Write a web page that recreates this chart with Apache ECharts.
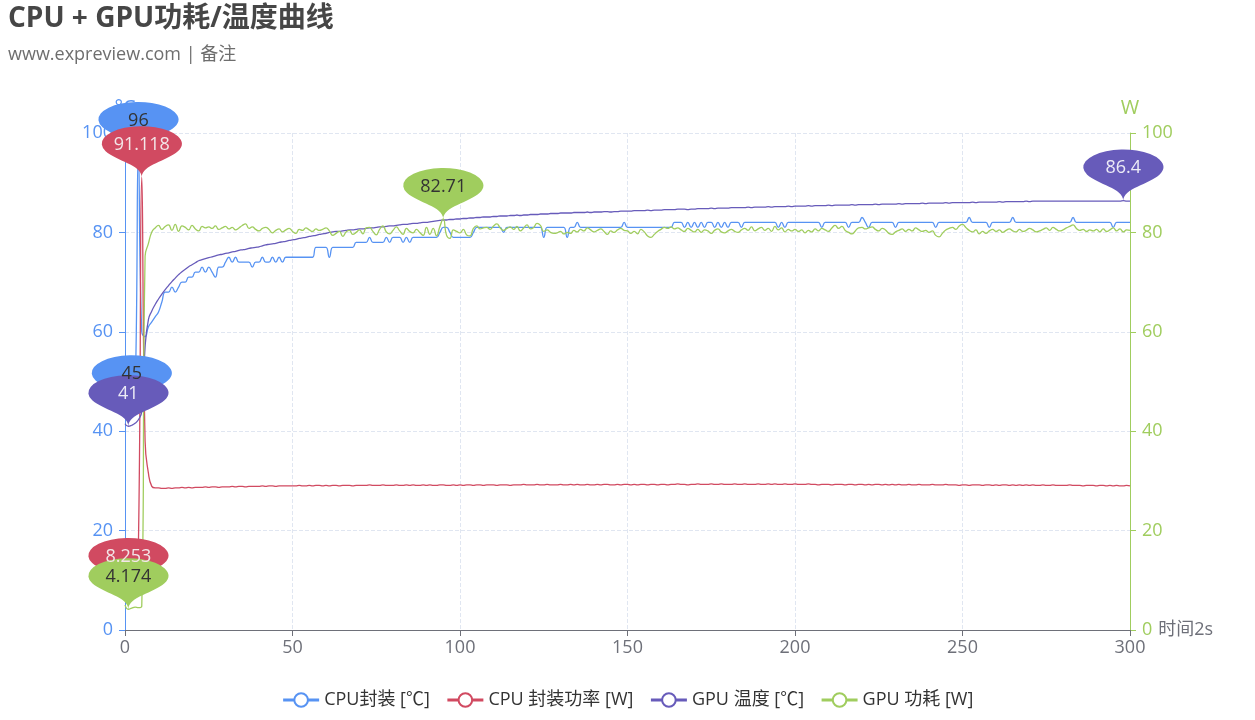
<!DOCTYPE html>
<html>
<head>
<meta charset="utf-8">
<script src="https://cdn.jsdelivr.net/npm/echarts@6/dist/echarts.min.js"></script>
<style>html,body{margin:0;padding:0;background:#fff;}#main{width:1255px;height:720px;}</style>
</head>
<body>
<div id="main"></div>
<script>
// ---- data ----
const seriesNames = ['CPU封装 [℃]', 'CPU 封装功率 [W]', 'GPU 温度 [℃]', 'GPU 功耗 [W]'];
const xTickStep = 50;
const yTicks = [0, 20, 40, 60, 80, 100];

const cpuTemp = [
46,46,45,47,96,60,59,61,62,63,
64,66,68,68,69,68,69,70,70,71,
71,72,72,73,72,73,72,71,73,73,
74,75,74,75,74,74,74,74,73,74,
74,75,74,74,75,74,75,74,75,75,
75,75,75,75,75,75,75,77,77,77,
77,75,77,77,77,77,77,77,77,78,
78,78,78,79,78,78,78,78,79,78,
79,79,79,78,79,78,79,79,79,79,
79,79,79,79,80,81,81,80,79,79,
79,79,79,79,80,81,81,81,81,81,
81,81,81,80,81,81,81,81,81,81,
81,81,81,81,81,79,81,81,81,81,
81,81,79,81,81,82,81,81,81,81,
81,81,81,81,81,81,81,81,81,82,
81,81,81,81,81,81,81,81,81,81,
81,81,81,81,82,82,82,81,82,81,
82,81,82,81,82,82,81,82,81,82,
81,82,82,82,81,82,82,82,82,82,
82,82,82,82,82,81,82,81,82,82,
82,82,82,82,82,82,82,82,81,82,
82,82,82,82,82,82,81,82,82,82,
83,82,81,82,82,82,82,82,82,82,
81,82,82,82,82,82,82,82,82,82,
82,82,81,82,82,82,82,82,82,82,
82,82,83,82,82,82,82,82,81,82,
82,82,82,82,82,83,82,82,82,82,
82,82,82,82,82,82,82,82,82,82,
82,82,82,83,82,82,82,82,82,82,
82,82,82,82,82,81,82,82,82,82,82
];

const cpuPower = [
9.8,8.253,8.6,9.0,17.0,91.118,38.0,31.5,28.9,28.6,
28.6,28.5,28.5,28.6,28.5,28.6,28.6,28.7,28.6,28.7,
28.6,28.7,28.7,28.7,28.8,28.7,28.8,28.8,28.7,28.8,
28.8,28.8,28.9,28.8,28.9,28.9,28.8,28.9,28.9,28.9,
28.9,29.0,28.9,29.0,29.0,28.9,29.0,29.0,29.0,29.0,
29.0,29.0,29.1,29.0,29.0,29.1,29.0,29.1,29.1,29.0,
29.1,29.0,29.1,29.1,29.0,29.1,29.1,29.1,29.0,29.1,
29.1,29.1,29.1,29.2,29.1,29.1,29.1,29.2,29.1,29.1,
29.1,29.2,29.1,29.1,29.2,29.1,29.2,29.1,29.1,29.2,
29.1,29.2,29.1,29.1,29.2,29.2,29.1,29.1,29.2,29.1,
29.2,29.1,29.2,29.2,29.1,29.2,29.2,29.1,29.2,29.2,
29.2,29.1,29.2,29.2,29.2,29.1,29.2,29.2,29.2,29.3,
29.2,29.2,29.2,29.3,29.2,29.2,29.3,29.2,29.2,29.2,
29.3,29.2,29.2,29.3,29.2,29.3,29.2,29.2,29.3,29.2,
29.2,29.3,29.2,29.3,29.3,29.2,29.2,29.3,29.2,29.3,
29.3,29.2,29.3,29.2,29.3,29.3,29.2,29.3,29.3,29.2,
29.3,29.3,29.2,29.3,29.3,29.4,29.3,29.3,29.2,29.3,
29.3,29.4,29.3,29.3,29.3,29.4,29.3,29.3,29.4,29.3,
29.3,29.3,29.4,29.3,29.3,29.4,29.3,29.3,29.3,29.4,
29.3,29.3,29.4,29.3,29.4,29.3,29.3,29.4,29.3,29.3,
29.4,29.3,29.3,29.3,29.4,29.3,29.3,29.2,29.3,29.3,
29.3,29.2,29.3,29.3,29.3,29.2,29.3,29.3,29.2,29.3,
29.3,29.2,29.3,29.2,29.3,29.3,29.2,29.3,29.2,29.3,
29.2,29.3,29.2,29.2,29.3,29.2,29.2,29.3,29.2,29.2,
29.2,29.3,29.2,29.2,29.2,29.3,29.2,29.2,29.2,29.1,
29.2,29.2,29.1,29.2,29.2,29.2,29.1,29.2,29.2,29.1,
29.2,29.1,29.2,29.2,29.1,29.2,29.1,29.2,29.1,29.2,
29.1,29.2,29.1,29.1,29.2,29.1,29.1,29.2,29.1,29.1,
29.1,29.1,29.2,29.1,29.1,29.1,29.0,29.1,29.1,29.1,
29.0,29.1,29.1,29.0,29.1,29.0,29.1,29.0,29.0,29.1,29.0
];

const gpuTemp = [
41.5,41.0,41.2,41.6,42.3,44.0,57.0,62.5,64.2,65.5,
66.6,67.6,68.5,69.3,70.1,70.8,71.5,72.1,72.6,73.1,
73.5,73.9,74.3,74.5,74.7,74.9,75.1,75.3,75.5,75.6,
75.8,75.9,76.1,76.2,76.4,76.5,76.6,76.8,76.9,77.0,
77.1,77.3,77.5,77.6,77.7,77.8,78.0,78.1,78.2,78.4,
78.5,78.6,78.8,78.9,79.0,79.2,79.3,79.4,79.6,79.7,
79.8,80.0,80.1,80.2,80.2,80.3,80.4,80.5,80.5,80.6,
80.7,80.7,80.8,80.9,80.9,81.0,81.1,81.1,81.2,81.3,
81.3,81.4,81.5,81.6,81.6,81.7,81.8,81.8,81.9,82.0,
82.0,82.1,82.2,82.3,82.4,82.5,82.5,82.6,82.6,82.7,
82.7,82.8,82.8,82.9,82.9,83.0,83.0,83.1,83.1,83.1,
83.2,83.2,83.3,83.3,83.3,83.4,83.4,83.5,83.4,83.5,
83.5,83.6,83.6,83.6,83.7,83.7,83.7,83.8,83.8,83.8,
83.9,83.9,83.9,83.9,84.0,84.0,84.0,84.0,84.1,84.0,
84.1,84.1,84.1,84.2,84.2,84.1,84.2,84.2,84.3,84.3,
84.3,84.3,84.4,84.4,84.4,84.4,84.5,84.4,84.5,84.5,
84.5,84.6,84.6,84.6,84.6,84.7,84.7,84.7,84.6,84.7,
84.7,84.8,84.8,84.8,84.8,84.9,84.8,84.9,84.9,84.9,
84.9,85.0,85.0,85.0,85.0,85.0,85.1,85.0,85.1,85.1,
85.1,85.1,85.2,85.1,85.2,85.2,85.2,85.2,85.3,85.2,
85.3,85.3,85.3,85.3,85.4,85.3,85.4,85.4,85.4,85.4,
85.5,85.4,85.5,85.5,85.5,85.5,85.5,85.6,85.5,85.6,
85.6,85.6,85.6,85.6,85.7,85.6,85.7,85.7,85.7,85.7,
85.7,85.8,85.7,85.8,85.8,85.8,85.8,85.8,85.9,85.8,
85.9,85.9,85.9,85.9,85.9,86.0,85.9,86.0,86.0,86.0,
86.0,86.0,86.0,86.1,86.0,86.1,86.1,86.1,86.1,86.1,
86.1,86.2,86.1,86.2,86.2,86.2,86.2,86.2,86.2,86.3,
86.2,86.3,86.3,86.3,86.3,86.3,86.3,86.3,86.3,86.3,
86.3,86.3,86.3,86.3,86.3,86.3,86.3,86.3,86.3,86.3,
86.3,86.3,86.3,86.3,86.3,86.3,86.3,86.3,86.4,86.3,86.3
];

const gpuPower = [
5.0,4.174,4.4,4.6,4.5,4.8,75.2,77.8,80.1,80.9,
81.4,80.6,81.2,81.5,80.4,81.6,80.2,81.3,81.0,80.5,
81.4,80.7,80.3,81.2,80.9,81.1,80.8,81.3,80.6,80.9,
81.2,80.7,81.0,80.5,80.9,81.4,81.7,80.8,81.1,80.6,
80.3,80.8,81.0,80.6,79.9,80.4,80.7,80.1,80.5,80.8,
80.2,79.8,80.6,80.4,80.9,80.5,80.2,80.7,80.4,80.6,
80.9,80.3,79.4,79.8,80.2,79.2,80.1,80.4,79.6,80.0,
80.5,79.7,80.9,81.0,80.2,79.5,80.6,81.3,80.1,79.7,
80.4,81.1,80.3,79.6,80.8,80.2,79.9,80.6,80.0,79.4,
81.0,79.6,80.8,79.3,81.2,82.71,79.4,78.8,80.5,80.2,
79.9,80.6,79.5,79.3,80.8,81.3,80.7,80.9,81.0,80.6,
81.3,81.7,80.9,80.4,80.8,81.1,80.6,81.2,80.3,80.9,
81.5,80.7,81.0,81.8,81.4,80.2,80.5,80.0,79.8,79.9,
80.2,79.7,80.0,79.8,80.4,80.1,80.6,80.3,80.9,80.5,
80.1,80.4,80.7,80.2,79.6,80.3,80.0,80.5,80.8,80.4,
80.3,79.8,80.2,79.7,80.6,80.1,79.3,79.0,79.6,80.2,
80.6,81.0,80.8,81.1,80.7,80.9,80.5,80.2,80.8,80.4,
80.1,80.6,80.0,80.5,80.3,79.8,80.4,80.7,80.1,79.9,
80.3,80.6,80.2,80.0,80.5,80.8,80.4,81.1,80.3,80.7,
81.0,80.4,80.8,80.2,81.2,80.5,80.9,80.1,80.6,80.3,
80.6,80.2,80.5,79.9,80.4,80.1,80.7,80.3,80.8,80.5,
80.2,80.9,81.4,80.8,81.2,80.4,80.0,79.7,80.3,80.9,
81.0,80.7,80.9,81.1,80.6,80.3,80.8,80.5,79.8,79.6,
80.1,80.4,80.7,80.2,80.6,80.3,80.9,80.5,80.2,80.4,
80.0,80.3,79.4,79.1,79.8,80.5,80.8,81.0,80.6,81.3,
81.6,81.0,80.4,80.1,80.5,79.7,80.2,79.8,80.3,80.6,
80.2,80.5,80.0,80.4,80.7,80.3,80.1,80.6,80.2,80.4,
80.8,80.5,80.1,80.3,80.6,80.9,80.4,81.0,80.6,80.3,
80.5,80.9,81.2,81.5,80.8,80.4,80.6,80.2,80.5,80.3,
80.6,80.1,80.7,80.2,80.5,80.9,80.3,80.7,80.1,80.5,80.4
];

const timeIndex = cpuTemp.map((_, i) => i);

// ---- style ----
const colors = ['#5793f3', '#d14a61', '#675bba', '#a0cd5e'];
const labelColors = ['#333', '#f3e6e8', '#ecebf6', '#333'];
const FONT = "'Open Sans', 'Noto Sans CJK SC', sans-serif";
const pinPath = 'path://M1.45 21.43 A15 15 0 1 1 28.55 21.43 C24.69 29.56 15 33.07 15 43.57 C15 33.07 5.31 29.56 1.45 21.43 Z';

function mk(i) {
  return {
    symbol: pinPath,
    symbolSize: [80, 51],
    symbolOffset: [0, '-50%'],
    label: { color: labelColors[i], fontSize: 18, fontFamily: FONT, offset: [0, -7] },
    itemStyle: { color: colors[i] },
    data: [{ type: 'max', name: 'max' }, { type: 'min', name: 'min' }]
  };
}

const seriesData = [cpuTemp, cpuPower, gpuTemp, gpuPower];
const yAxisIdx = [0, 0, 0, 1];

const chart = echarts.init(document.getElementById('main'));
chart.setOption({
  animation: false,
  color: colors,
  textStyle: { fontFamily: FONT },
  title: {
    text: 'CPU + GPU功耗/温度曲线',
    subtext: 'www.expreview.com | 备注',
    left: 8, top: 5, padding: 0, itemGap: 13,
    textStyle: { fontSize: 28, fontWeight: 'bold', color: '#464646', fontFamily: FONT },
    subtextStyle: { fontSize: 18, color: '#6e6e6e', fontFamily: FONT }
  },
  legend: {
    bottom: 6,
    left: 'center',
    itemWidth: 36,
    itemHeight: 17,
    itemGap: 16,
    itemStyle: { borderWidth: 2.5 },
    lineStyle: { width: 3 },
    textStyle: { fontSize: 18, color: '#333', fontFamily: FONT },
    data: seriesNames
  },
  grid: { left: 125, right: 125, top: 133, bottom: 90 },
  xAxis: {
    type: 'category',
    boundaryGap: false,
    data: timeIndex,
    name: '时间2s',
    nameGap: 12,
    nameTextStyle: { fontSize: 18, color: '#6e7079', fontFamily: FONT },
    axisLine: { lineStyle: { color: '#6e7079' } },
    axisTick: { interval: xTickStep - 1, length: 6 },
    axisLabel: { interval: xTickStep - 1, fontSize: 18, color: '#6e7079', margin: 9 },
    splitLine: { show: true, interval: xTickStep - 1, lineStyle: { type: 'dashed', color: '#e0e6f1' } }
  },
  yAxis: [
    {
      type: 'value', min: yTicks[0], max: yTicks[yTicks.length - 1], interval: yTicks[1] - yTicks[0],
      position: 'left',
      name: '°C',
      nameTextStyle: { fontSize: 20, color: colors[0] },
      axisLine: { show: true, lineStyle: { color: colors[0] } },
      axisTick: { show: true, length: 6 },
      axisLabel: { fontSize: 18, color: colors[0], margin: 12 },
      splitLine: { lineStyle: { type: 'dashed', color: '#e0e6f1' } }
    },
    {
      type: 'value', min: yTicks[0], max: yTicks[yTicks.length - 1], interval: yTicks[1] - yTicks[0],
      position: 'right',
      name: 'W',
      nameTextStyle: { fontSize: 20, color: colors[3] },
      axisLine: { show: true, lineStyle: { color: colors[3] } },
      axisTick: { show: true, length: 6 },
      axisLabel: { fontSize: 18, color: colors[3], margin: 12 },
      splitLine: { show: false }
    }
  ],
  series: seriesData.map((d, i) => ({
    name: seriesNames[i],
    type: 'line',
    yAxisIndex: yAxisIdx[i],
    data: d,
    smooth: true,
    showSymbol: false,
    symbol: 'emptyCircle',
    symbolSize: 10,
    lineStyle: { width: 1.3, color: colors[i] },
    itemStyle: { color: colors[i] },
    markPoint: mk(i)
  }))
});
</script>
</body>
</html>
